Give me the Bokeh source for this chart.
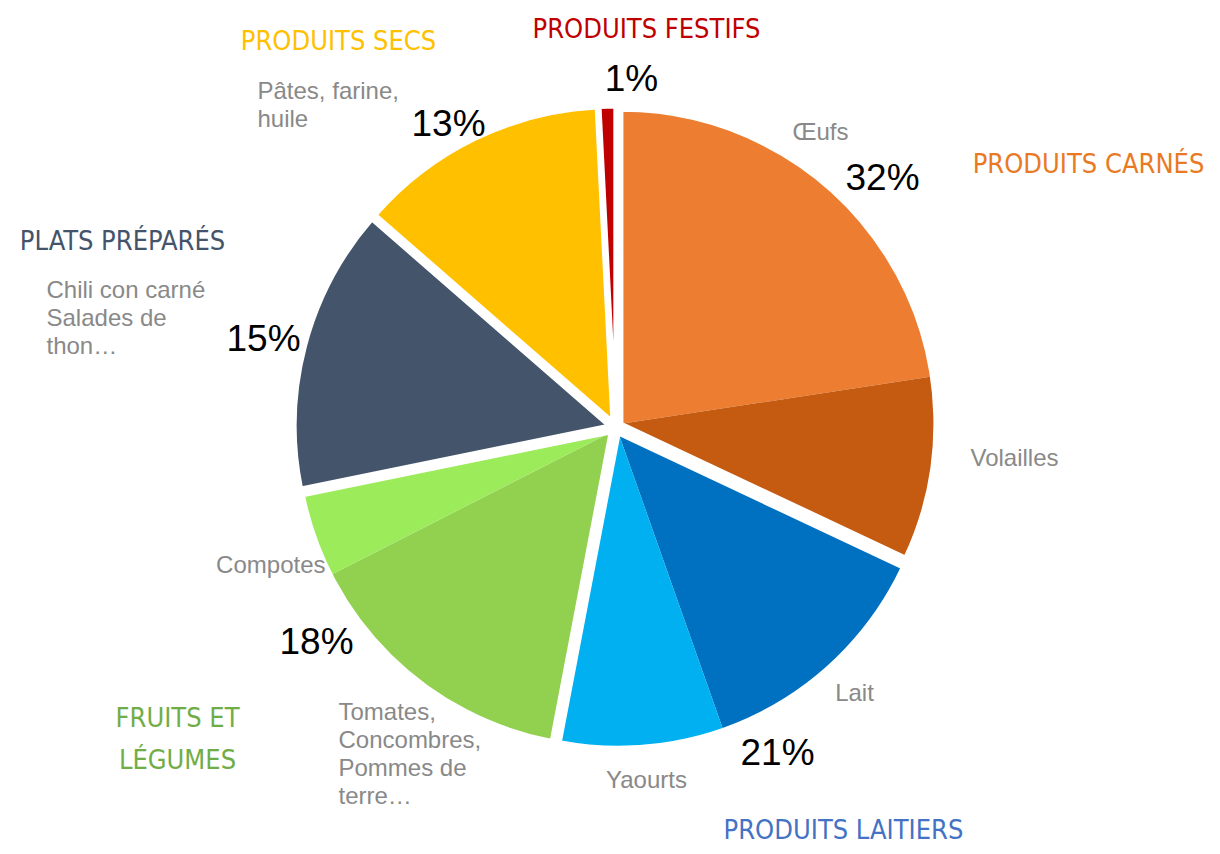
import math
from bokeh.plotting import figure
from bokeh.models import Range1d, ColumnDataSource
from bokeh.core.properties import value
from bokeh.embed import file_html
from bokeh.resources import INLINE

# ---------------- data ----------------
group_names = ["PRODUITS CARNÉS", "PRODUITS LAITIERS", "FRUITS ET\nLÉGUMES",
               "PLATS PRÉPARÉS", "PRODUITS SECS", "PRODUITS FESTIFS"]
group_pct_labels = ["32%", "21%", "18%", "15%", "13%", "1%"]
group_title_colors = ["#E97A24", "#4472C4", "#70AD47", "#44546A", "#FFC000", "#C00000"]

sub_labels = ["Œufs", "Volailles", "Lait", "Yaourts",
              "Tomates,\nConcombres,\nPommes de\nterre…", "Compotes",
              "Chili con carné\nSalades de\nthon…", "Pâtes, farine,\nhuile", ""]
sub_group = [0, 0, 1, 1, 2, 2, 3, 4, 5]
sub_values = [22.6, 9.4, 12.6, 8.4, 14.5, 4.3, 14.6, 12.8, 0.8]
sub_colors = ["#ED7D31", "#C55A11", "#0070C0", "#00B0F0", "#92D050",
              "#9BEB5B", "#44546A", "#FFC000", "#C00000"]

# ---------------- layout ----------------
W, H = 1212, 846
CX, CY = 615, 427        # pie centre (page px)
R = 314
EXPLODE = 7
GAP = 4

pct_pos = [(882, 177), (777, 752), (316, 641), (263, 338), (448, 123), (631, 78)]
title_pos = [(1088, 163), (843, 829), (177, 738), (122, 240), (338, 40), (646, 28)]
sub_pos = [(820, 131, "center"), (1014, 457, "center"), (854, 692, "center"),
           (646, 779, "center"), (338, 753, "left"), (325, 564, "right"),
           (46, 317, "left"), (257, 104, "left"), (0, 0, "center")]

p = figure(width=W, height=H, x_range=Range1d(0, W), y_range=Range1d(-H, 0),
           x_axis_type=None, y_axis_type=None, toolbar_location=None,
           output_backend="svg", min_border=0)
p.grid.visible = False
p.outline_line_color = None
p.background_fill_color = "white"
p.border_fill_color = "white"

total = sum(sub_values)
g_start, g_end = {}, {}
acc = 0.0
sub_th = []
for v, g in zip(sub_values, sub_group):
    t1 = acc
    acc += v / total * 360.0
    t2 = acc
    sub_th.append((t1, t2))
    g_start.setdefault(g, t1)
    g_end[g] = t2

def centre(g):
    mid = math.radians((g_start[g] + g_end[g]) / 2)
    return CX + EXPLODE * math.sin(mid), CY - EXPLODE * math.cos(mid)

ws = dict(x=[], y=[], s=[], e=[], c=[])
for (t1, t2), g, c in zip(sub_th, sub_group, sub_colors):
    cx, cy = centre(g)
    ws["x"].append(cx); ws["y"].append(-cy)
    ws["s"].append(math.pi / 2 - math.radians(t1))
    ws["e"].append(math.pi / 2 - math.radians(t2))
    ws["c"].append(c)
p.wedge(x="x", y="y", radius=R, start_angle="s", end_angle="e", direction="clock",
        fill_color="c", line_color=None, source=ColumnDataSource(ws))

gs = dict(x=[], y=[], s=[], e=[])
for g in range(len(group_names)):
    cx, cy = centre(g)
    gs["x"].append(cx); gs["y"].append(-cy)
    gs["s"].append(math.pi / 2 - math.radians(g_start[g]))
    gs["e"].append(math.pi / 2 - math.radians(g_end[g]))
p.wedge(x="x", y="y", radius=R, start_angle="s", end_angle="e", direction="clock",
        fill_color=None, line_color="white", line_width=GAP, line_join="round",
        source=ColumnDataSource(gs))

# percentages
p.text(x=[q[0] for q in pct_pos], y=[-q[1] for q in pct_pos], text=group_pct_labels,
       text_font=value("Liberation Sans"), text_font_size="37px", text_color="black",
       text_align="center", text_baseline="middle")

# group titles
p.text(x=[q[0] for q in title_pos], y=[-q[1] for q in title_pos], text=group_names,
       text_font=value("DejaVu Sans Condensed"), text_font_size="27px",
       text_color=group_title_colors, text_align="center", text_baseline="middle",
       text_line_height=1.35)

# sub labels
for align in ["left", "center", "right"]:
    idx = [i for i, q in enumerate(sub_pos) if q[2] == align and sub_labels[i]]
    p.text(x=[sub_pos[i][0] for i in idx], y=[-sub_pos[i][1] for i in idx],
           text=[sub_labels[i] for i in idx],
           text_font=value("Liberation Sans"), text_font_size="24px", text_color="#898989",
           text_align=align, text_baseline="middle", text_line_height=1.04)

open("out.html", "w").write(file_html(p, INLINE))
